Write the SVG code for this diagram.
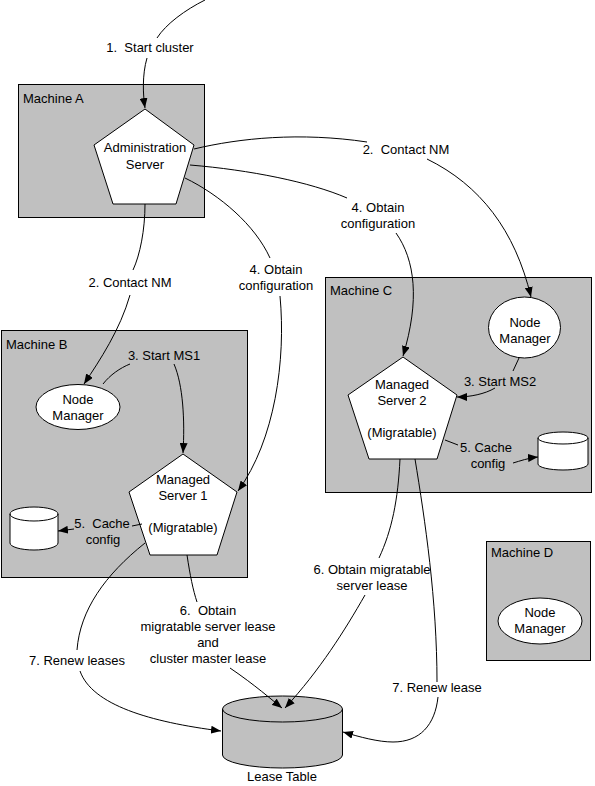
<svg xmlns="http://www.w3.org/2000/svg" width="595" height="786" viewBox="0 0 595 786">
<style>
.box{fill:#c0c0c0;stroke:#000;stroke-width:1}
.shape{fill:#fff;stroke:#000;stroke-width:1}
.gshape{fill:#c0c0c0;stroke:#000;stroke-width:1}
.t{font-family:"Liberation Sans",Arial,sans-serif;font-size:13px;fill:#000}
.c{text-anchor:middle}
.ln{fill:none;stroke:#000;stroke-width:1}
.ar{fill:none;stroke:#000;stroke-width:1;marker-end:url(#arrow)}
</style>
<defs>
<marker id="arrow" viewBox="0 0 10 8" refX="10" refY="4" markerWidth="10" markerHeight="8" markerUnits="userSpaceOnUse" orient="auto">
<path d="M0,0 L10,4 L0,8 Z" fill="#000"/>
</marker>
</defs>
<rect width="595" height="786" fill="#fff"/>

<g id="machineA">
<rect class="box" x="18.5" y="84.5" width="186" height="133"/>
<text class="t" x="23" y="103">Machine A</text>
</g>
<g id="machineB">
<rect class="box" x="1.5" y="330.5" width="246" height="247"/>
<text class="t" x="6" y="349">Machine B</text>
</g>
<g id="machineC">
<rect class="box" x="325.5" y="277.5" width="266" height="215"/>
<text class="t" x="330" y="295">Machine C</text>
</g>
<g id="machineD">
<rect class="box" x="486.5" y="541.5" width="104" height="119"/>
<text class="t" x="491" y="557">Machine D</text>
</g>

<g id="adminServer">
<polygon class="shape" points="145,109 194,145 176,204 113,204 94,145"/>
<text class="t c" x="145" y="152">Administration</text>
<text class="t c" x="145" y="169">Server</text>
</g>
<g id="nodeManagerB">
<ellipse class="shape" cx="78" cy="407" rx="42" ry="22.5"/>
<text class="t c" x="78" y="404">Node</text>
<text class="t c" x="78" y="420">Manager</text>
</g>
<g id="managedServer1">
<polygon class="shape" points="183,454 237,492 217,555 150,555 129,492"/>
<text class="t c" x="183" y="484">Managed</text>
<text class="t c" x="183" y="500">Server 1</text>
<text class="t c" x="183" y="532">(Migratable)</text>
</g>
<g id="cacheB">
<path class="shape" d="M10,514 L10,543 A24,7 0 0 0 58,543 L58,514 A24,7 0 0 0 10,514 Z"/>
<path class="ln" d="M10,514 A24,7 0 0 0 58,514"/>
</g>
<g id="nodeManagerC">
<ellipse class="shape" cx="524.5" cy="327.5" rx="36" ry="30.5"/>
<text class="t c" x="525" y="327">Node</text>
<text class="t c" x="525" y="343">Manager</text>
</g>
<g id="managedServer2">
<polygon class="shape" points="403,357 457,395 437,459 369,459 348,395"/>
<text class="t c" x="402" y="389">Managed</text>
<text class="t c" x="402" y="405">Server 2</text>
<text class="t c" x="402" y="437">(Migratable)</text>
</g>
<g id="cacheC">
<path class="shape" d="M538,438 L538,464 A25,6 0 0 0 588,464 L588,438 A25,6 0 0 0 538,438 Z"/>
<path class="ln" d="M538,438 A25,6 0 0 0 588,438"/>
</g>
<g id="nodeManagerD">
<ellipse class="shape" cx="540" cy="621" rx="42" ry="23"/>
<text class="t c" x="540" y="617">Node</text>
<text class="t c" x="540" y="633">Manager</text>
</g>
<g id="leaseTable">
<path class="gshape" d="M222.5,709 L222.5,755 A60,13 0 0 0 342.5,755 L342.5,709 A60,13 0 0 0 222.5,709 Z"/>
<path class="ln" d="M222.5,709 A60,13 0 0 0 342.5,709"/>
<text class="t c" x="282" y="781">Lease Table</text>
</g>

<g id="connectors">
<path class="ln" d="M205,0 C185,10 166,24 157,38"/>
<path class="ar" d="M147,58 C142,75 143,95 145,108"/>

<path class="ln" d="M194,149 C240,138 300,132 367,142"/>
<path class="ar" d="M427,159 C480,185 515,230 531,297"/>

<path class="ln" d="M190,165 C250,170 310,182 347,198"/>
<path class="ar" d="M396,233 C415,260 420,300 403,356"/>

<path class="ln" d="M185,178 C220,195 255,225 270,258"/>
<path class="ar" d="M280,296 C286,360 275,440 238,491"/>

<path class="ln" d="M145,204 C145,230 140,255 133,270"/>
<path class="ar" d="M130,295 C120,330 100,360 84,384"/>

<path class="ln" d="M103,384 C110,375 120,368 130,364"/>
<path class="ar" d="M174,364 C183,385 185,420 183,453"/>

<path class="ln" d="M519,358 L513,371"/>
<path class="ar" d="M495,388 C485,394 470,397 457,397"/>

<path class="ln" d="M142,524 L132,526"/>
<path class="ar" d="M74,529 L58,531"/>

<path class="ln" d="M445,440 L458,445"/>
<path class="ar" d="M513,463 C520,461 528,458 538,457"/>

<path class="ln" d="M145,543 C105,575 80,610 77,650"/>
<path class="ar" d="M80,671 C92,705 150,722 221,731"/>

<path class="ln" d="M187,555 C190,575 193,590 197,602"/>
<path class="ar" d="M230,668 C255,685 272,700 282,708"/>

<path class="ln" d="M400,459 C398,500 392,530 379,558"/>
<path class="ar" d="M365,595 C345,630 320,670 285,708"/>

<path class="ln" d="M415,459 C425,520 437,600 437,682"/>
<path class="ar" d="M438,697 C435,725 420,742 393,742 C378,742 360,737 343,732"/>
</g>

<g id="labels">
<text class="t c" x="150" y="52">1.&#160; Start cluster</text>
<text class="t c" x="406" y="154">2.&#160; Contact NM</text>
<text class="t c" x="378" y="212">4. Obtain</text>
<text class="t c" x="378" y="228">configuration</text>
<text class="t c" x="276" y="274">4. Obtain</text>
<text class="t c" x="276" y="290">configuration</text>
<text class="t c" x="130" y="287">2. Contact NM</text>
<text class="t c" x="164" y="360">3. Start MS1</text>
<text class="t c" x="500" y="386">3. Start MS2</text>
<text class="t c" x="102" y="528">5.&#160; Cache</text>
<text class="t c" x="103" y="544">config</text>
<text class="t c" x="486" y="452">5. Cache</text>
<text class="t c" x="488" y="468">config</text>
<text class="t c" x="208" y="615">6.&#160; Obtain</text>
<text class="t c" x="208" y="631">migratable server lease</text>
<text class="t c" x="208" y="647">and</text>
<text class="t c" x="208" y="663">cluster master lease</text>
<text class="t c" x="77" y="665">7. Renew leases</text>
<text class="t c" x="372" y="574">6. Obtain migratable</text>
<text class="t c" x="372" y="590">server lease</text>
<text class="t c" x="437" y="692">7. Renew lease</text>
</g>
</svg>
